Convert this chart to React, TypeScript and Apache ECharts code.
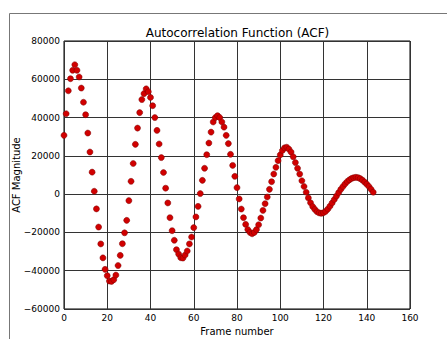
import React, { useEffect, useRef } from "react";
import * as echarts from "echarts";

const frames: number[] = Array.from({ length: 144 }, (_, i) => i);

const acfValues: number[] = [
  30700, 42000, 54000, 60300, 64700, 67600, 64700, 61200, 55400, 48000,
  41500, 31900, 22000, 11500, 1500, -7700, -17200, -26000, -33300, -39300,
  -42600, -45400, -45600, -44700, -42300, -37300, -32000, -25900, -20200, -13700,
  -3400, 6700, 16000, 26000, 34500, 42600, 49400, 52500, 55000, 53500,
  50500, 46200, 40000, 33300, 26200, 19100, 11300, 3100, -4600, -12300,
  -19100, -24100, -29000, -31300, -33200, -33400, -31800, -29700, -26000, -22400,
  -17500, -11900, -6400, 300, 7200, 13500, 20600, 26700, 32400, 37700,
  40000, 41000, 40000, 37700, 35000, 30700, 26400, 20800, 15000, 9300,
  3400, -2500, -7800, -12300, -15800, -18500, -20000, -20700, -20000, -18500,
  -16000, -12500, -8500, -5000, -1500, 2500, 6500, 10500, 14000, 17500,
  20500, 22800, 24200, 24500, 23500, 22000, 19500, 16500, 13500, 10500,
  7000, 4000, 1000, -2000, -4500, -6500, -8000, -9200, -9800, -10000,
  -9700, -9000, -7800, -6300, -4600, -2800, -1000, 800, 2500, 4000,
  5400, 6600, 7500, 8200, 8600, 8800, 8600, 8100, 7300, 6300,
  5200, 4000, 2500, 1000,
];

const xTicks = { min: 0, max: 160, interval: 20 };
const yTicks = { min: -60000, max: 80000, interval: 20000 };

const titleText = "Autocorrelation Function (ACF)";
const xName = "Frame number";
const yName = "ACF Magnitude";

export default function App() {
  const ref = useRef<HTMLDivElement>(null);

  useEffect(() => {
    document.body.style.margin = "0";
    if (!ref.current) return;
    const chart = echarts.init(ref.current, null, { renderer: "svg" });
    const font = "DejaVu Sans";
    const fmt = (v: number) => String(v).replace("-", "\u2212");
    chart.setOption({
      animation: false,
      backgroundColor: "#ffffff",
      textStyle: { fontFamily: font },
      grid: {
        left: 64,
        top: 41,
        width: 346,
        height: 268,
        show: true,
        borderColor: "#000",
        borderWidth: 1,
        backgroundColor: "transparent",
        containLabel: false,
        outerBoundsMode: "none",
      },
      graphic: [
        {
          type: "line",
          shape: { x1: 9.5, y1: 13.5, x2: 447, y2: 13.5 },
          style: { stroke: "#777", lineWidth: 1 },
        },
        {
          type: "line",
          shape: { x1: 9.5, y1: 13.5, x2: 9.5, y2: 339 },
          style: { stroke: "#777", lineWidth: 1 },
        },
        {
          type: "text",
          x: 237.5,
          y: 33,
          style: {
            text: titleText,
            fontFamily: font,
            fontSize: 12,
            fill: "#000",
            textAlign: "center",
            textVerticalAlign: "middle",
          },
        },
      ],
      xAxis: {
        type: "value",
        min: xTicks.min,
        max: xTicks.max,
        interval: xTicks.interval,
        name: xName,
        nameLocation: "middle",
        nameGap: 17,
        nameMoveOverlap: false,
        nameTextStyle: { fontFamily: font, fontSize: 10, color: "#000" },
        axisLine: { show: false },
        axisTick: { show: false },
        axisLabel: {
          fontFamily: font,
          fontSize: 9,
          color: "#000",
          margin: 4,
          formatter: fmt,
        },
        splitLine: { show: true, lineStyle: { color: "#333", width: 1 } },
      },
      yAxis: {
        type: "value",
        min: yTicks.min,
        max: yTicks.max,
        interval: yTicks.interval,
        name: yName,
        nameLocation: "middle",
        nameGap: 43,
        nameMoveOverlap: false,
        nameTextStyle: { fontFamily: font, fontSize: 10, color: "#000" },
        axisLine: { show: false },
        axisTick: { show: false },
        axisLabel: {
          fontFamily: font,
          fontSize: 9,
          color: "#000",
          margin: 4,
          formatter: fmt,
        },
        splitLine: { show: true, lineStyle: { color: "#333", width: 1 } },
      },
      series: [
        {
          type: "scatter",
          data: frames.map((f, i) => [f, acfValues[i]]),
          symbol: "circle",
          symbolSize: 6,
          itemStyle: {
            color: "#d10000",
            borderColor: "#7a0000",
            borderWidth: 0.5,
            opacity: 1,
          },
          z: 5,
        },
      ],
    });
    return () => chart.dispose();
  }, []);

  return <div ref={ref} style={{ width: 447, height: 339 }} />;
}
